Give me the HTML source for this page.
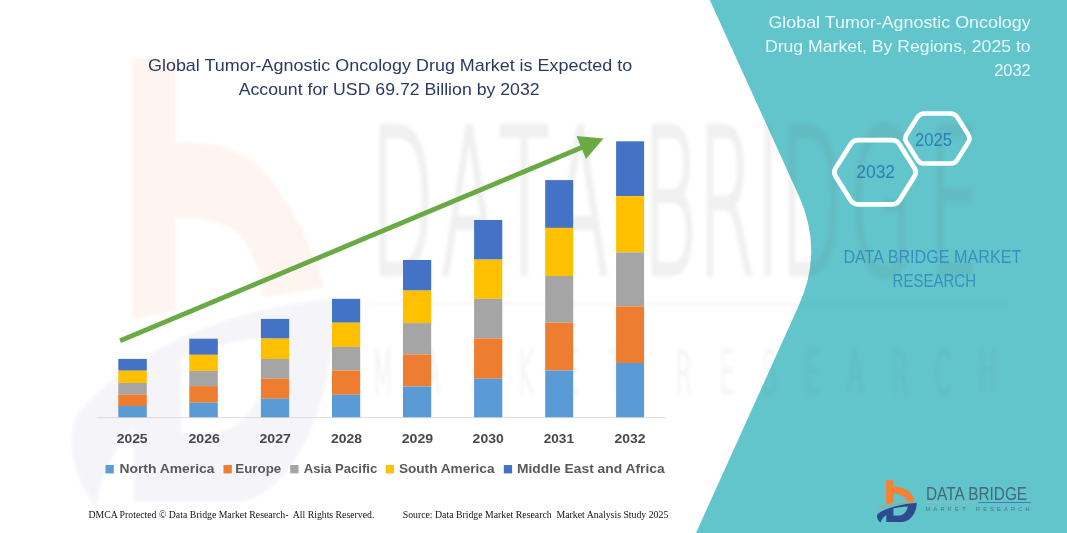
<!DOCTYPE html>
<html lang="en"><head><meta charset="utf-8"><title>Global Tumor-Agnostic Oncology Drug Market</title>
<style>html,body{margin:0;padding:0;background:#fff;overflow:hidden}svg{display:block}.cal{font-family:"Liberation Sans",Arial,sans-serif}.b{font-family:"Liberation Sans",Arial,sans-serif;font-weight:bold}.ser{font-family:"Liberation Serif","Times New Roman",serif}</style></head><body>
<svg width="1067" height="533" viewBox="0 0 1067 533">
<rect width="1067" height="533" fill="#ffffff"/>
<path d="M709.8,0 L798.5,195 Q823.7,250.4 799,305 L696,533 L1067,533 L1067,0 Z" fill="#63C5CC"/>
<defs><filter id="wmblur" x="-5%" y="-5%" width="110%" height="110%"><feGaussianBlur stdDeviation="1.6"/></filter></defs>
<g filter="url(#wmblur)">
<path d="M132.5,58.5 L175.3,58.5 L175.3,142.5 C200,141 226,145 245,156 C263,166 281,192 297,220 C308,240 318,265 324,287.6 L263,297 C262,275 253,251 240,236 C228,222 205,217 175.3,218 L175.3,311 L132.5,319 Z" fill="#F58233" opacity="0.08"/>
<path transform="translate(132.5,58.5) scale(6.6,10.57) translate(-886.1,-480.2)" d="M916.8,503.0 C903.0,503.6 886.5,507.2 877.6,514.0 C876.0,517.0 877.6,520.4 880.6,522.6 C881.2,519.6 883.6,516.6 886.3,515.2 L886.3,522.1 L902.7,522.1 C911.0,521.0 916.6,512.5 916.8,503.0 Z M893.4,508.4 C897.5,507.4 902.5,506.7 907.8,506.4 C907.0,511.5 903.5,515.3 899.0,515.6 L893.4,515.6 Z" fill="#2F4B8F" opacity="0.055"/>
<g opacity="0.095" fill="#606060" stroke="#606060" stroke-width="4.4" style="font-family:'DejaVu Sans','Liberation Sans',sans-serif;font-weight:200">
<text transform="translate(0,273.0) scale(1.12,2.74)" x="331.2 394.2 445.5 493.3 553.6 574.1 623.2 675.0 696.4 758.5 828.6" y="0" font-size="73" vector-effect="non-scaling-stroke" xml:space="preserve">DATA BRIDGE</text>
</g>
<g opacity="0.07" fill="#606060" stroke="#606060" stroke-width="1.5" style="font-family:'DejaVu Sans','Liberation Sans',sans-serif;font-weight:200">
<text transform="translate(372,393) scale(1,2.35)" x="0" y="0" font-size="25" textLength="252" lengthAdjust="spacing" vector-effect="non-scaling-stroke">MARKET</text>
<text transform="translate(675,393) scale(1,2.35)" x="0" y="0" font-size="25" textLength="322" lengthAdjust="spacing" vector-effect="non-scaling-stroke">RESEARCH</text>
</g>
<line x1="370" y1="304" x2="640" y2="304" stroke="#F58233" stroke-width="2" opacity="0.08"/>
<line x1="640" y1="304" x2="1010" y2="304" stroke="#2F4B8F" stroke-width="2" opacity="0.06"/>
</g>
<line x1="97" y1="417.6" x2="666" y2="417.6" stroke="#D9D9D9" stroke-width="0.9"/>
<rect x="118.3" y="358.9" width="28.5" height="11.8" fill="#4472C4"/>
<rect x="118.3" y="370.7" width="28.5" height="12.3" fill="#FFC000"/>
<rect x="118.3" y="383.0" width="28.5" height="11.4" fill="#A5A5A5"/>
<rect x="118.3" y="394.4" width="28.5" height="11.6" fill="#ED7D31"/>
<rect x="118.3" y="406.0" width="28.5" height="11.3" fill="#5B9BD5"/>
<rect x="189.3" y="338.7" width="28.5" height="16.1" fill="#4472C4"/>
<rect x="189.3" y="354.8" width="28.5" height="16.1" fill="#FFC000"/>
<rect x="189.3" y="370.9" width="28.5" height="15.2" fill="#A5A5A5"/>
<rect x="189.3" y="386.1" width="28.5" height="16.6" fill="#ED7D31"/>
<rect x="189.3" y="402.7" width="28.5" height="14.6" fill="#5B9BD5"/>
<rect x="260.9" y="318.9" width="28.3" height="19.7" fill="#4472C4"/>
<rect x="260.9" y="338.6" width="28.3" height="20.4" fill="#FFC000"/>
<rect x="260.9" y="359.0" width="28.3" height="19.5" fill="#A5A5A5"/>
<rect x="260.9" y="378.5" width="28.3" height="20.2" fill="#ED7D31"/>
<rect x="260.9" y="398.7" width="28.3" height="18.6" fill="#5B9BD5"/>
<rect x="332.0" y="298.8" width="28.2" height="23.9" fill="#4472C4"/>
<rect x="332.0" y="322.7" width="28.2" height="24.3" fill="#FFC000"/>
<rect x="332.0" y="347.0" width="28.2" height="23.5" fill="#A5A5A5"/>
<rect x="332.0" y="370.5" width="28.2" height="24.2" fill="#ED7D31"/>
<rect x="332.0" y="394.7" width="28.2" height="22.6" fill="#5B9BD5"/>
<rect x="403.0" y="260.0" width="28.2" height="30.6" fill="#4472C4"/>
<rect x="403.0" y="290.6" width="28.2" height="32.5" fill="#FFC000"/>
<rect x="403.0" y="323.1" width="28.2" height="31.3" fill="#A5A5A5"/>
<rect x="403.0" y="354.4" width="28.2" height="32.1" fill="#ED7D31"/>
<rect x="403.0" y="386.5" width="28.2" height="30.8" fill="#5B9BD5"/>
<rect x="474.1" y="220.0" width="28.2" height="39.6" fill="#4472C4"/>
<rect x="474.1" y="259.6" width="28.2" height="39.2" fill="#FFC000"/>
<rect x="474.1" y="298.8" width="28.2" height="39.6" fill="#A5A5A5"/>
<rect x="474.1" y="338.4" width="28.2" height="40.3" fill="#ED7D31"/>
<rect x="474.1" y="378.7" width="28.2" height="38.6" fill="#5B9BD5"/>
<rect x="545.2" y="180.1" width="28.0" height="47.8" fill="#4472C4"/>
<rect x="545.2" y="227.9" width="28.0" height="48.1" fill="#FFC000"/>
<rect x="545.2" y="276.0" width="28.0" height="46.7" fill="#A5A5A5"/>
<rect x="545.2" y="322.7" width="28.0" height="47.8" fill="#ED7D31"/>
<rect x="545.2" y="370.5" width="28.0" height="46.8" fill="#5B9BD5"/>
<rect x="616.1" y="141.3" width="28.0" height="54.8" fill="#4472C4"/>
<rect x="616.1" y="196.1" width="28.0" height="56.3" fill="#FFC000"/>
<rect x="616.1" y="252.4" width="28.0" height="53.9" fill="#A5A5A5"/>
<rect x="616.1" y="306.3" width="28.0" height="56.7" fill="#ED7D31"/>
<rect x="616.1" y="363.0" width="28.0" height="54.3" fill="#5B9BD5"/>
<g fill="#6AAA45" stroke="none">
<path d="M119.2,338.6 L121.0,343.1 L584.4,148.9 L582.6,144.4 Z"/>
<path d="M603.5,138.5 L576.5,136 L586,159 Z"/>
</g>
<text x="148.0" y="70.6" font-size="17" fill="#2A3B60" class="cal" text-anchor="start" textLength="484.2" lengthAdjust="spacingAndGlyphs">Global Tumor-Agnostic Oncology Drug Market is Expected to</text>
<text x="238.7" y="95.0" font-size="17" fill="#2A3B60" class="cal" text-anchor="start" textLength="300.9" lengthAdjust="spacingAndGlyphs">Account for USD 69.72 Billion by 2032</text>
<text x="116.7" y="443.1" font-size="13.4" fill="#484848" class="b" text-anchor="start" textLength="30.9" lengthAdjust="spacingAndGlyphs">2025</text>
<text x="188.4" y="443.1" font-size="13.4" fill="#484848" class="b" text-anchor="start" textLength="31.5" lengthAdjust="spacingAndGlyphs">2026</text>
<text x="259.5" y="443.1" font-size="13.4" fill="#484848" class="b" text-anchor="start" textLength="31.5" lengthAdjust="spacingAndGlyphs">2027</text>
<text x="330.9" y="443.1" font-size="13.4" fill="#484848" class="b" text-anchor="start" textLength="31.0" lengthAdjust="spacingAndGlyphs">2028</text>
<text x="401.7" y="443.1" font-size="13.4" fill="#484848" class="b" text-anchor="start" textLength="31.5" lengthAdjust="spacingAndGlyphs">2029</text>
<text x="472.6" y="443.1" font-size="13.4" fill="#484848" class="b" text-anchor="start" textLength="31.2" lengthAdjust="spacingAndGlyphs">2030</text>
<text x="543.7" y="443.1" font-size="13.4" fill="#484848" class="b" text-anchor="start" textLength="30.3" lengthAdjust="spacingAndGlyphs">2031</text>
<text x="614.5" y="443.1" font-size="13.4" fill="#484848" class="b" text-anchor="start" textLength="31.0" lengthAdjust="spacingAndGlyphs">2032</text>
<rect x="105.5" y="465" width="8.3" height="8.4" fill="#5B9BD5"/>
<text x="119.5" y="472.9" font-size="13.7" fill="#595959" class="b" text-anchor="start" textLength="95.0" lengthAdjust="spacingAndGlyphs">North America</text>
<rect x="223.5" y="465" width="8.3" height="8.4" fill="#ED7D31"/>
<text x="235.3" y="472.9" font-size="13.7" fill="#595959" class="b" text-anchor="start" textLength="45.9" lengthAdjust="spacingAndGlyphs">Europe</text>
<rect x="290.2" y="465" width="8.3" height="8.4" fill="#A5A5A5"/>
<text x="303.7" y="472.9" font-size="13.7" fill="#595959" class="b" text-anchor="start" textLength="73.6" lengthAdjust="spacingAndGlyphs">Asia Pacific</text>
<rect x="385.7" y="465" width="8.3" height="8.4" fill="#FFC000"/>
<text x="398.9" y="472.9" font-size="13.7" fill="#595959" class="b" text-anchor="start" textLength="95.6" lengthAdjust="spacingAndGlyphs">South America</text>
<rect x="503.8" y="465" width="8.3" height="8.4" fill="#4472C4"/>
<text x="517.0" y="472.9" font-size="13.7" fill="#595959" class="b" text-anchor="start" textLength="147.6" lengthAdjust="spacingAndGlyphs">Middle East and Africa</text>
<text x="88.4" y="517.7" font-size="9.8" fill="#111111" class="ser" text-anchor="start" textLength="286.0" lengthAdjust="spacingAndGlyphs" xml:space="preserve">DMCA Protected © Data Bridge Market Research-  All Rights Reserved.</text>
<text x="402.7" y="517.7" font-size="9.8" fill="#111111" class="ser" text-anchor="start" textLength="265.6" lengthAdjust="spacingAndGlyphs" xml:space="preserve">Source: Data Bridge Market Research  Market Analysis Study 2025</text>
<text x="768.4" y="28.2" font-size="17" fill="#E6FBFB" class="cal" text-anchor="start" textLength="262.3" lengthAdjust="spacingAndGlyphs">Global Tumor-Agnostic Oncology</text>
<text x="764.9" y="52.2" font-size="17" fill="#E6FBFB" class="cal" text-anchor="start" textLength="265.8" lengthAdjust="spacingAndGlyphs">Drug Market, By Regions, 2025 to</text>
<text x="994.2" y="76.3" font-size="17" fill="#E6FBFB" class="cal" text-anchor="start" textLength="36.5" lengthAdjust="spacingAndGlyphs">2032</text>
<path d="M835.71,176.53 Q833.05,172.30 835.71,168.07 L850.59,144.43 Q853.25,140.20 858.25,140.20 L891.85,140.20 Q896.85,140.20 899.51,144.43 L914.39,168.07 Q917.05,172.30 914.39,176.53 L899.51,200.17 Q896.85,204.40 891.85,204.40 L858.25,204.40 Q853.25,204.40 850.59,200.17 Z" fill="none" stroke="#ffffff" stroke-width="4.8" stroke-linejoin="round"/>
<path d="M906.49,142.31 Q904.10,138.50 906.49,134.69 L917.41,117.31 Q919.80,113.50 924.30,113.50 L950.50,113.50 Q955.00,113.50 957.39,117.31 L968.31,134.69 Q970.70,138.50 968.31,142.31 L957.39,159.69 Q955.00,163.50 950.50,163.50 L924.30,163.50 Q919.80,163.50 917.41,159.69 Z" fill="none" stroke="#ffffff" stroke-width="4.5" stroke-linejoin="round"/>
<text x="856.2" y="177.7" font-size="18.1" fill="#2E7DB8" class="cal" text-anchor="start" textLength="38.9" lengthAdjust="spacingAndGlyphs">2032</text>
<text x="914.9" y="145.7" font-size="18.1" fill="#2E7DB8" class="cal" text-anchor="start" textLength="37.1" lengthAdjust="spacingAndGlyphs">2025</text>
<text x="843.4" y="262.6" font-size="17.8" fill="#3890BF" class="cal" text-anchor="start" textLength="177.9" lengthAdjust="spacingAndGlyphs">DATA BRIDGE MARKET</text>
<text x="892.6" y="286.6" font-size="17.8" fill="#3890BF" class="cal" text-anchor="start" textLength="83.4" lengthAdjust="spacingAndGlyphs">RESEARCH</text>
<path d="M886.1,480.2 L893.4,480.2 L893.4,486.6 C903.5,486.4 912.8,491.5 914.6,501.6 C908.5,501.9 902.0,502.6 897.0,503.4 L907.4,501.8 C906.6,497.6 901.0,493.6 893.4,493.4 L893.4,503.0 C890.9,503.4 888.4,503.9 886.1,504.5 Z" fill="#F58233"/>
<path d="M916.8,503.0 C903.0,503.6 886.5,507.2 877.6,514.0 C876.0,517.0 877.6,520.4 880.6,522.6 C881.2,519.6 883.6,516.6 886.3,515.2 L886.3,522.1 L902.7,522.1 C911.0,521.0 916.6,512.5 916.8,503.0 Z M893.4,508.4 C897.5,507.4 902.5,506.7 907.8,506.4 C907.0,511.5 903.5,515.3 899.0,515.6 L893.4,515.6 Z" fill="#2F4B8F"/>
<path d="M876.6,508.2 C888,505.0 902,503.0 916.4,502.1" fill="none" stroke="#F58233" stroke-width="0.7" opacity="0.75"/>
<text x="926.0" y="499.7" font-size="18.2" fill="#45687A" class="cal" text-anchor="start" textLength="101.1" lengthAdjust="spacingAndGlyphs">DATA BRIDGE</text>
<line x1="926" y1="502.5" x2="976" y2="502.5" stroke="#C9B49A" stroke-width="0.7" opacity="0.7"/>
<line x1="978.4" y1="502.5" x2="1030.7" y2="502.5" stroke="#4A6FB0" stroke-width="0.9"/>
<text x="925.4" y="511.1" font-size="5.6" fill="#45687A" class="cal" textLength="40.2" lengthAdjust="spacing" opacity="0.85">MARKET</text>
<text x="975.9" y="511.1" font-size="5.6" fill="#45687A" class="cal" textLength="53.6" lengthAdjust="spacing" opacity="0.85">RESEARCH</text>
</svg></body></html>
